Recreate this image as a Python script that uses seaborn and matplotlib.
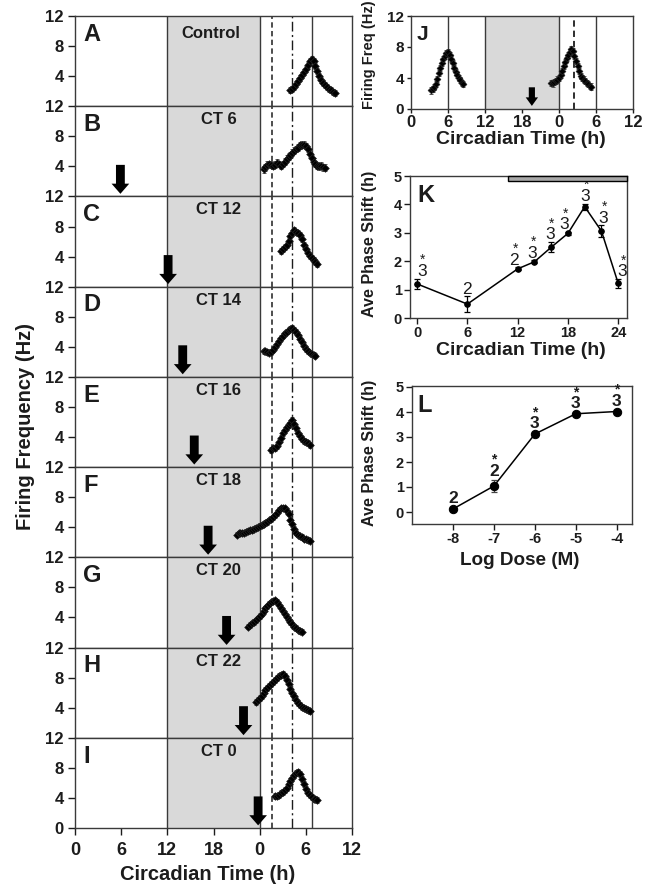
import numpy as np
import pandas as pd
import matplotlib
matplotlib.use("Agg")
import matplotlib.pyplot as plt
from matplotlib.patches import Rectangle
import seaborn as sns

# ==================== data ====================
row_letters = ["A", "B", "C", "D", "E", "F", "G", "H", "I"]
row_titles = ["Control", "CT 6", "CT 12", "CT 14", "CT 16", "CT 18", "CT 20", "CT 22", "CT 0"]
arrow_times = [None, 5.9, 12.1, 14.0, 15.5, 17.3, 19.7, 21.9, 23.8]

night = (12, 24)
ref_solid = [12, 24, 30.8]
ref_dashed = 25.6
ref_dashdot = 28.2
ct_ticks = [0, 6, 12, 18, 24, 30, 36]
ct_labels = ["0", "6", "12", "18", "0", "6", "12"]

trace_step = 0.25
trace_start = [28.0, 24.5, 26.75, 24.5, 25.5, 21.0, 22.5, 23.5, 26.0]
trace_sem = [0.4, 0.45, 0.4, 0.35, 0.4, 0.35, 0.35, 0.4, 0.4]

freq_A = [2.2, 2.3, 2.6, 3.0, 3.4, 3.8, 4.1, 4.5, 5.0, 5.5, 6.0, 6.3, 6.0, 5.4, 4.7, 4.0,
          3.5, 3.1, 2.8, 2.5, 2.3, 2.1, 1.9, 1.8]
freq_B = [3.6, 3.9, 4.2, 4.3, 4.2, 4.1, 4.2, 4.5, 4.3, 4.1, 4.3, 4.6, 5.0, 5.3, 5.5, 5.8,
          6.1, 6.3, 6.5, 6.8, 6.9, 6.9, 6.7, 6.3, 5.7, 5.1, 4.6, 4.3, 4.1, 4.0, 4.1, 3.9, 3.8]
freq_C = [4.8, 5.0, 5.3, 5.6, 6.1, 6.7, 7.2, 7.5, 7.3, 7.1, 6.9, 6.3, 5.6, 5.0, 4.5, 4.1,
          3.8, 3.5, 3.3, 3.0]
freq_D = [3.4, 3.4, 3.3, 3.2, 3.3, 3.6, 4.0, 4.4, 4.8, 5.2, 5.5, 5.8, 6.0, 6.3, 6.4, 6.5,
          6.3, 6.0, 5.6, 5.1, 4.6, 4.1, 3.7, 3.4, 3.2, 3.0, 2.9, 2.8]
freq_E = [2.3, 2.6, 2.5, 2.8, 3.3, 3.9, 4.5, 5.0, 5.4, 5.6, 5.9, 6.2, 5.8, 5.2, 4.6, 4.1,
          3.7, 3.5, 3.3, 3.2, 3.0]
freq_F = [3.0, 3.2, 3.3, 3.3, 3.3, 3.4, 3.5, 3.6, 3.6, 3.8, 3.9, 4.0, 4.2, 4.3, 4.5, 4.6,
          4.7, 4.9, 5.1, 5.3, 5.6, 5.9, 6.3, 6.5, 6.6, 6.5, 6.2, 5.8, 5.0, 4.4, 3.8, 3.3,
          3.0, 2.8, 2.7, 2.5, 2.4, 2.3, 2.2]
freq_G = [2.8, 3.0, 3.2, 3.4, 3.6, 3.9, 4.2, 4.5, 4.9, 5.2, 5.5, 5.8, 6.0, 6.2, 6.3, 6.1,
          5.7, 5.3, 4.9, 4.5, 4.1, 3.7, 3.4, 3.1, 2.8, 2.6, 2.4, 2.2, 2.1]
freq_H = [4.8, 5.0, 5.3, 5.6, 6.0, 6.3, 6.6, 6.9, 7.2, 7.4, 7.7, 7.9, 8.2, 8.4, 8.5, 8.2,
          7.7, 7.1, 6.5, 6.0, 5.5, 5.0, 4.6, 4.3, 4.1, 3.9, 3.8, 3.7, 3.6]
freq_I = [4.2, 4.3, 4.4, 4.6, 4.8, 5.0, 5.3, 5.8, 6.2, 6.6, 7.0, 7.3, 7.5, 7.2, 6.5, 5.8,
          5.2, 4.7, 4.4, 4.1, 3.9, 3.8, 3.7]
row_traces = [freq_A, freq_B, freq_C, freq_D, freq_E, freq_F, freq_G, freq_H, freq_I]

# panel J (two days of recording)
j_start = [3.25, 22.75]
freq_J1 = [2.4, 2.6, 2.8, 3.2, 3.9, 4.6, 5.3, 5.9, 6.4, 6.8, 7.2, 7.3, 7.0, 6.5, 5.9, 5.3,
           4.8, 4.4, 4.0, 3.7, 3.4, 3.2]
freq_J2 = [3.4, 3.3, 3.5, 3.6, 3.8, 4.0, 4.4, 4.9, 5.5, 6.1, 6.6, 7.0, 7.4, 7.7, 7.5, 6.9,
           6.2, 5.5, 4.9, 4.3, 4.0, 3.8, 3.6, 3.4, 3.2, 3.0, 2.9]
j_sem = 0.4
j_solid = [6, 12, 24, 30]
j_dashed = 26.4
j_arrow_time = 19.6

# panel K: phase shift vs circadian time
k_ct = [0, 6, 12, 14, 16, 18, 20, 22, 24]
k_shift = [1.2, 0.49, 1.73, 1.98, 2.49, 2.98, 3.92, 3.06, 1.22]
k_err = [0.18, 0.27, 0.05, 0.05, 0.18, 0.05, 0.1, 0.2, 0.15]
k_n = ["3", "2", "2", "3", "3", "3", "3", "3", "3"]
k_sig = [True, False, True, True, True, True, True, True, True]
k_bar = (10.8, 25.05)

# panel L: dose response
l_dose = [-8, -7, -6, -5, -4]
l_shift = [0.12, 1.04, 3.12, 3.93, 4.02]
l_err = [0.08, 0.25, 0.06, 0.07, 0.07]
l_n = ["2", "2", "3", "3", "3"]
l_sig = [False, True, True, True, True]

# ==================== style ====================
ink = "#1c1c1c"
frame = "#3a3a3a"
shade = "#d9d9d9"

sns.set_theme(style="ticks", rc={"axes.linewidth": 1.0, "axes.edgecolor": frame,
                                 "xtick.major.width": 1.0, "ytick.major.width": 1.0,
                                 "xtick.color": ink, "ytick.color": ink})
plt.rcParams["font.family"] = ["Liberation Sans", "DejaVu Sans"]
plt.rcParams["font.weight"] = "bold"
plt.rcParams["axes.unicode_minus"] = False
plt.rcParams["text.color"] = ink

W, H = 646, 884
fig = plt.figure(figsize=(W / 100, H / 100), dpi=100)


def px_axes(x0, y0, x1, y1):
    return fig.add_axes([x0 / W, 1 - y1 / H, (x1 - x0) / W, (y1 - y0) / H])


def draw_trace(ax, start, values, sem, size=15):
    t = start + trace_step * np.arange(len(values))
    v = np.asarray(values)
    ax.errorbar(t, v, yerr=sem, fmt="none", ecolor="#555555", elinewidth=0.7,
                capsize=1.3, capthick=0.7, zorder=3)
    sns.scatterplot(x=t, y=v, ax=ax, marker="D", s=size, color="black",
                    edgecolor="#222222", linewidth=0.5, zorder=4, legend=False)


# ==================== left column A-I ====================
row_h = (828 - 16) / 9
for i in range(9):
    top = 16 + i * row_h
    ax = px_axes(75, top, 352, top + row_h)
    ax.axvspan(night[0], night[1], color=shade, lw=0, zorder=0)
    for x in ref_solid:
        ax.axvline(x, color=frame, lw=1.0, zorder=1)
    ax.axvline(ref_dashed, color=ink, lw=1.1, ls=(0, (3.5, 2.2)), zorder=1)
    ax.axvline(ref_dashdot, color=ink, lw=1.0, ls=(0, (7, 2.5, 1.5, 2.5)), zorder=1)

    draw_trace(ax, trace_start[i], row_traces[i], trace_sem[i])

    if arrow_times[i] is not None:
        ax.arrow(arrow_times[i], 4.2, 0, -3.85, width=1.15, head_width=2.3,
                 head_length=1.35, length_includes_head=True, fc="black",
                 ec="black", lw=0, zorder=5)

    ax.text(8 / 277, 0.725, row_letters[i], transform=ax.transAxes, fontsize=17,
            ha="left", va="baseline")
    if i == 0:
        ax.text(17.65, 9.1, row_titles[i], fontsize=12, ha="center", va="baseline")
    else:
        ax.text(18.65, 9.6, row_titles[i], fontsize=12, ha="center", va="baseline")

    ax.set_xlim(0, 36)
    ax.set_ylim(0, 12)
    ax.set_ylabel("")
    if i < 8:
        ax.set_yticks([4, 8, 12])
        ax.set_xticks([])
    else:
        ax.set_yticks([0, 4, 8, 12])
        ax.set_xticks(ct_ticks)
        ax.set_xticklabels(ct_labels)
        ax.tick_params(axis="x", length=5, pad=5, labelsize=13)
    ax.tick_params(axis="y", length=5, pad=3, labelsize=12)

fig.text(26 / W, 1 - 427 / H, "Firing Frequency (Hz)", rotation=90, ha="center",
         va="center", fontsize=14.5)
fig.text(208 / W, 1 - 880 / H, "Circadian Time (h)", ha="center", va="baseline",
         fontsize=14.5)

# ==================== panel J ====================
axj = px_axes(411, 16, 633, 109)
axj.axvspan(night[0], night[1], color=shade, lw=0, zorder=0)
for x in j_solid:
    axj.axvline(x, color=frame, lw=1.0, zorder=1)
axj.axvline(j_dashed, color=ink, lw=1.3, ls=(0, (3.5, 2.2)), zorder=1)
draw_trace(axj, j_start[0], freq_J1, j_sem, size=12)
draw_trace(axj, j_start[1], freq_J2, j_sem, size=12)
axj.arrow(j_arrow_time, 2.8, 0, -2.4, width=1.0, head_width=2.0, head_length=1.1,
          length_includes_head=True, fc="black", ec="black", lw=0, zorder=5)
axj.set_xlim(0, 36)
axj.set_ylim(0, 12)
axj.set_xticks(ct_ticks)
axj.set_xticklabels(ct_labels)
axj.set_yticks([0, 4, 8, 12])
axj.tick_params(axis="x", length=3, pad=1, labelsize=12)
axj.tick_params(axis="y", length=3, pad=2, labelsize=11)
axj.text(6 / 222, 0.742, "J", transform=axj.transAxes, fontsize=15, va="baseline")
fig.text(369 / W, 1 - 55 / H, "Firing Freq (Hz)", rotation=90, ha="center",
         va="center", fontsize=10.5)
fig.text(521 / W, 1 - 144 / H, "Circadian Time (h)", ha="center", va="baseline",
         fontsize=14)

# ==================== panel K ====================
axk = px_axes(410, 176, 627, 318)
df_k = pd.DataFrame({"ct": k_ct, "shift": k_shift})
axk.errorbar(k_ct, k_shift, yerr=k_err, fmt="none", ecolor="black", elinewidth=0.9,
             capsize=2.5, capthick=0.9, zorder=3)
sns.lineplot(data=df_k, x="ct", y="shift", ax=axk, color="black", lw=1.1, marker="o",
             markersize=4, markeredgecolor="black", errorbar=None, zorder=4)
axk.add_patch(Rectangle((k_bar[0], 4.82), k_bar[1] - k_bar[0], 0.18, facecolor="#a8a8a8",
                        edgecolor="black", lw=1.0, clip_on=False, zorder=5))
k_dx = [3.4, 0, -2.4, -1.8, -0.6, -2.7, 0.4, 1.2, 3.0]
for x, y, e, n, s, dx in zip(k_ct, k_shift, k_err, k_n, k_sig, k_dx):
    axk.annotate(n, xy=(x, y + e), xytext=(dx, 2), textcoords="offset points",
                 ha="center", va="baseline", fontsize=12.5, fontweight="normal")
    if s:
        axk.annotate("*", xy=(x, y + e), xytext=(dx + 0.8, 10.5), textcoords="offset points",
                     ha="center", va="baseline", fontsize=10, fontweight="normal")
axk.set_xlim(-0.85, 25.05)
axk.set_ylim(0, 5)
axk.set_xticks([0, 6, 12, 18, 24])
axk.set_yticks([0, 1, 2, 3, 4, 5])
axk.set_xlabel("")
axk.set_ylabel("")
axk.tick_params(length=4, pad=2, labelsize=10.5)
axk.text(7 / 217, 0.817, "K", transform=axk.transAxes, fontsize=17, va="baseline")
fig.text(369 / W, 1 - 243.5 / H, "Ave Phase Shift (h)", rotation=90, ha="center",
         va="center", fontsize=11.6)
fig.text(520.5 / W, 1 - 355 / H, "Circadian Time (h)", ha="center", va="baseline",
         fontsize=14)

# ==================== panel L ====================
axl = px_axes(412, 386, 632, 524)
df_l = pd.DataFrame({"dose": l_dose, "shift": l_shift})
axl.errorbar(l_dose, l_shift, yerr=l_err, fmt="none", ecolor="#444444", elinewidth=0.9,
             capsize=2.5, capthick=0.9, zorder=3)
sns.lineplot(data=df_l, x="dose", y="shift", ax=axl, color="black", lw=1.1, marker="o",
             markersize=6, markeredgecolor="black", errorbar=None, zorder=4)
for x, y, e, n, s in zip(l_dose, l_shift, l_err, l_n, l_sig):
    axl.annotate(n, xy=(x, y + e), xytext=(0, 3), textcoords="offset points",
                 ha="center", va="baseline", fontsize=12.5)
    if s:
        axl.annotate("*", xy=(x, y + e), xytext=(0, 11.5), textcoords="offset points",
                     ha="center", va="baseline", fontsize=10)
axl.set_xlim(-9.0, -3.63)
axl.set_ylim(-0.48, 5.04)
axl.set_xticks(l_dose)
axl.set_yticks([0, 1, 2, 3, 4, 5])
axl.set_xlabel("")
axl.set_ylabel("")
axl.tick_params(length=4, pad=2, labelsize=10.5)
axl.text(5 / 220, 0.81, "L", transform=axl.transAxes, fontsize=17, va="baseline")
fig.text(369 / W, 1 - 453 / H, "Ave Phase Shift (h)", rotation=90, ha="center",
         va="center", fontsize=11.6)
fig.text(520 / W, 1 - 565 / H, "Log Dose (M)", ha="center", va="baseline", fontsize=13.6)

fig.savefig("out.png", dpi=100, facecolor="white")
